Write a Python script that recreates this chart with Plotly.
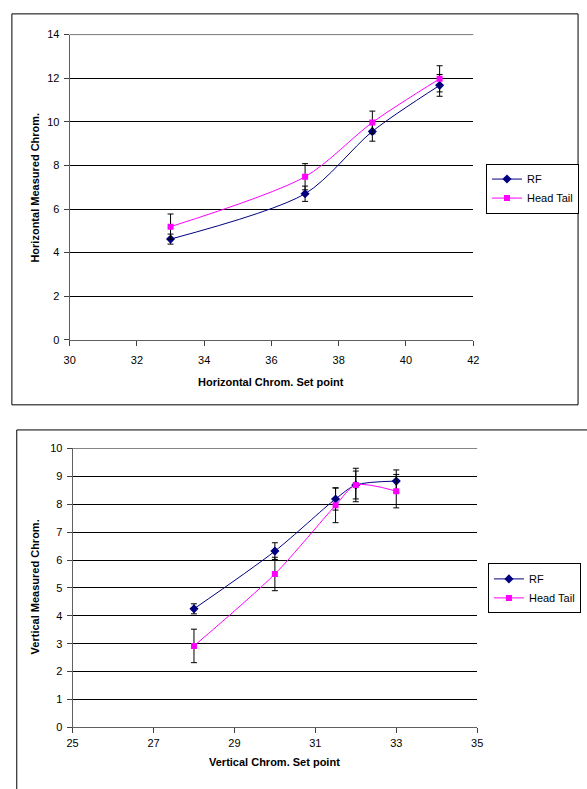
import plotly.graph_objects as go

W, H = 587, 789

# ---- Data: horizontal chromaticity ----
h_set = [33, 37, 39, 41]
h_rf = [4.62, 6.70, 9.56, 11.67]
h_rf_err = [0.23, 0.35, 0.45, 0.5]
h_ht = [5.19, 7.48, 9.97, 11.97]
h_ht_err = [0.58, 0.6, 0.52, 0.6]

# ---- Data: vertical chromaticity ----
v_set = [28, 30, 31.5, 32, 33]
v_rf = [4.25, 6.32, 8.19, 8.69, 8.83]
v_rf_err = [0.18, 0.3, 0.4, 0.5, 0.4]
v_ht = [2.92, 5.5, 7.96, 8.69, 8.47]
v_ht_err = [0.6, 0.6, 0.62, 0.6, 0.6]

series_names = ["RF", "Head Tail"]
RF_COLOR = "#000080"
HT_COLOR = "#FF00FF"
FONT = "Liberation Sans, Arial, sans-serif"


def px_x(p):
    return p / W


def px_y(p):
    return 1 - p / H


fig = go.Figure()


def add_pair(x, rf, rf_err, ht, ht_err, xa, ya, legend):
    fig.add_trace(go.Scatter(
        x=x, y=rf, name=series_names[0], mode="lines+markers",
        line=dict(color=RF_COLOR, width=1, shape="spline", smoothing=0.8),
        marker=dict(symbol="diamond", size=7, color=RF_COLOR),
        error_y=dict(type="data", array=rf_err, color="black", thickness=1, width=3),
        xaxis=xa, yaxis=ya, legend=legend))
    fig.add_trace(go.Scatter(
        x=x, y=ht, name=series_names[1], mode="lines+markers",
        line=dict(color=HT_COLOR, width=1, shape="spline", smoothing=0.8),
        marker=dict(symbol="square", size=6, color=HT_COLOR),
        error_y=dict(type="data", array=ht_err, color="black", thickness=1, width=3),
        xaxis=xa, yaxis=ya, legend=legend))


add_pair(h_set, h_rf, h_rf_err, h_ht, h_ht_err, "x", "y", "legend")
add_pair(v_set, v_rf, v_rf_err, v_ht, v_ht_err, "x2", "y2", "legend2")

axis_common = dict(
    showline=True, linecolor="#606060", linewidth=1,
    ticks="outside", ticklen=5, tickcolor="#404040",
    tickfont=dict(family=FONT, size=11, color="black"),
    zeroline=False,
)

legend_common = dict(
    xanchor="left", yanchor="top",
    bordercolor="black", borderwidth=1, bgcolor="white",
    font=dict(family=FONT, size=11), tracegroupgap=0, itemwidth=30,
)

title_font = dict(family=FONT, size=11, color="black")

fig.update_layout(
    width=W, height=H,
    margin=dict(l=0, r=0, t=0, b=0),
    paper_bgcolor="white", plot_bgcolor="white",
    font=dict(family=FONT, size=11, color="black"),
    xaxis=dict(domain=[px_x(65), px_x(477)], range=[30, 42], tick0=30, dtick=2,
               showgrid=False, anchor="y", ticklabelstandoff=5, **axis_common),
    yaxis=dict(domain=[px_y(339), px_y(29)], range=[0, 14], dtick=2,
               showgrid=True, gridcolor="black", gridwidth=1, anchor="x",
               ticklabelstandoff=2, **axis_common),
    xaxis2=dict(domain=[px_x(68), px_x(481)], range=[25, 35], tick0=25, dtick=2,
                showgrid=False, anchor="y2", ticklabelstandoff=0, **axis_common),
    yaxis2=dict(domain=[px_y(732.5), px_y(449.3)], range=[0, 10], dtick=1,
                showgrid=True, gridcolor="black", gridwidth=1, anchor="x2",
                ticklabelstandoff=2, **axis_common),
    legend=dict(x=px_x(490), y=px_y(160), **legend_common),
    legend2=dict(x=px_x(492), y=px_y(566), **legend_common),
    shapes=[
        dict(type="rect", xref="paper", yref="paper",
             x0=px_x(6), x1=px_x(584), y0=px_y(405), y1=px_y(8),
             line=dict(color="black", width=1), layer="below"),
        dict(type="rect", xref="paper", yref="paper",
             x0=px_x(11), x1=px_x(600), y0=px_y(800), y1=px_y(430.5),
             line=dict(color="black", width=1), layer="below"),
        # gridlines at the upper end of each value axis
        dict(type="line", xref="x domain", yref="y", x0=0, x1=1, y0=14, y1=14,
             line=dict(color="black", width=1), layer="below"),
        dict(type="line", xref="x2 domain", yref="y2", x0=0, x1=1, y0=10, y1=10,
             line=dict(color="black", width=1), layer="below"),
    ],
    annotations=[
        dict(text="<b>Horizontal Chrom. Set point</b>", xref="paper", yref="paper",
             x=px_x(271), y=px_y(382), xanchor="center", yanchor="middle",
             showarrow=False, font=title_font),
        dict(text="<b>Horizontal Measured Chrom.</b>", xref="paper", yref="paper",
             x=px_x(30), y=px_y(184), xanchor="center", yanchor="middle",
             showarrow=False, textangle=-90, font=title_font),
        dict(text="<b>Vertical Chrom. Set point</b>", xref="paper", yref="paper",
             x=px_x(274), y=px_y(768), xanchor="center", yanchor="middle",
             showarrow=False, font=title_font),
        dict(text="<b>Vertical Measured Chrom.</b>", xref="paper", yref="paper",
             x=px_x(30), y=px_y(590), xanchor="center", yanchor="middle",
             showarrow=False, textangle=-90, font=title_font),
    ],
)

fig.write_html(
    "out.html",
    config={"displayModeBar": False},
    post_script="document.body.style.margin='0';document.body.style.overflow='hidden';",
)
